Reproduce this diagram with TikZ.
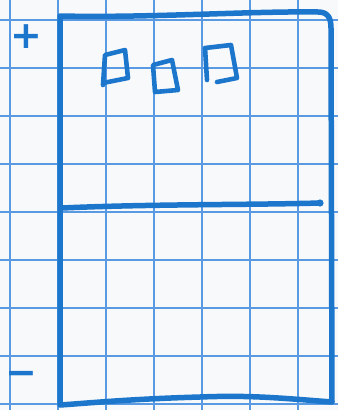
\documentclass[tikz,border=0pt]{standalone}
\usepackage{fontspec}
\usetikzlibrary{positioning}
\newfontfamily\signfont{DejaVu Sans}
\definecolor{inkcol}{HTML}{1B76CC}
\definecolor{gridcol}{HTML}{5A9AE2}
\definecolor{papercol}{HTML}{F8F9FB}

\begin{document}
\begin{tikzpicture}[x=1pt, y=-1pt,
  pen/.style={draw=inkcol, line width=5.5pt, line cap=round, line join=round},
  thinpen/.style={pen, line width=4.6pt},
  gridline/.style={draw=gridcol, line width=1.5pt},
  sign/.style={text=inkcol, font=\signfont\bfseries\fontsize{38}{38}\selectfont, inner sep=0pt}
]
\fill[papercol] (0,0) rectangle (338,410);
\useasboundingbox (0,0) rectangle (338,410);

% squared paper
\foreach \gx in {10,58,...,330} \draw[gridline] (\gx,0) -- (\gx,410);
\foreach \gy in {20,68,...,410} \draw[gridline] (0,\gy) -- (338,\gy);

% frame
\coordinate (tl) at (60,16);
\coordinate (tr) at (331,13);
\coordinate (br) at (332,402);
\coordinate (bl) at (60,405);
\draw[pen] (bl) -- (tl) .. controls (150,18) and (250,11) .. (318,12)
  .. controls (328,12) and (331,18) .. (331,28) -- (br)
  .. controls (280,398) and (250,395) .. (200,397)
  .. controls (130,399) and (90,403) .. (bl);

% divider
\coordinate (dl) at (62,208);
\coordinate (dr) at (320,203);
\draw[pen] (dl) .. controls (150,204) and (250,205) .. (dr);
\fill[inkcol] (dr) circle (3.6pt);

% small boxes
\draw[thinpen] (103,85) -- (105,55) -- (125,50) -- (128,78) -- (103,83);
\draw[thinpen] (153,65) -- (172,60) -- (178,90) -- (155,92) -- cycle;
\draw[thinpen] (217,82) -- (237,78) -- (231,45) -- (205,48) -- (207,80);

% signs
\node[sign] (plus) at (26,37) {+};
\node[sign] (minus) at (21,378) {−};
\end{tikzpicture}
\end{document}
